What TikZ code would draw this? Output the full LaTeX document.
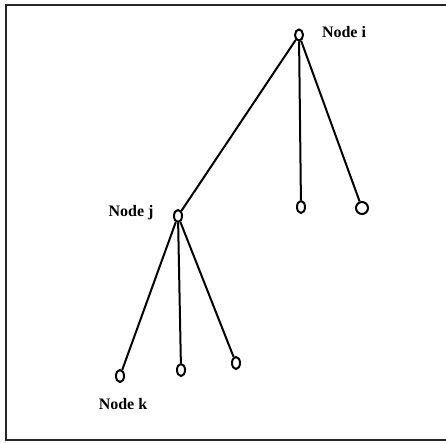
\documentclass[tikz,border=0pt]{standalone}
\usepackage{fontspec}
\setmainfont{Liberation Serif}
\usetikzlibrary{shapes.geometric}
\begin{document}
\begin{tikzpicture}[x=1pt,y=-1pt,
  treenode/.style={ellipse,draw=black,line width=2pt,inner sep=0pt,minimum width=#1},
  treenode/.default=8pt,
  lbl/.style={font=\bfseries\fontsize{16}{18}\selectfont,inner sep=0pt},
  edge/.style={line width=2pt,black}]
  \useasboundingbox (0,0) rectangle (446,443);
  % frame
  \draw[line width=2.6pt,black!85] (6,5) rectangle (452,440);
  % nodes
  \node[treenode, minimum height=11pt] (i) at (299,35) {};
  \node[treenode, minimum height=12pt] (j) at (178,216) {};
  \node[treenode, minimum height=12pt] (i1) at (301,207) {};
  \node[treenode=12pt, minimum height=12pt] (i2) at (362,208) {};
  \node[treenode, minimum height=12pt] (k) at (120,376) {};
  \node[treenode, minimum height=12pt] (j2) at (181,370) {};
  \node[treenode, minimum height=12pt] (j3) at (236,363) {};
  % labels
  \node[lbl] (li) at (344,32) {Node i};
  \node[lbl] (lj) at (131,213) {Node j};
  \node[lbl] (lk) at (123,404) {Node k};
  % edges
  \draw[edge] (i) -- (j);
  \draw[edge] (i) -- (i1);
  \draw[edge] (i) -- (i2);
  \draw[edge] (j) -- (k);
  \draw[edge] (j) -- (j2);
  \draw[edge] (j) -- (j3);
\end{tikzpicture}
\end{document}
